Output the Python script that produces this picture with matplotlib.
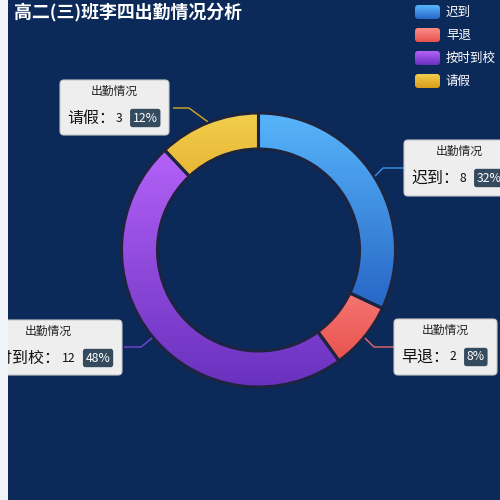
import numpy as np
import matplotlib
matplotlib.use("Agg")
import matplotlib.pyplot as plt
from matplotlib.patches import Wedge, FancyBboxPatch, Rectangle
from matplotlib.colors import to_rgb

plt.rcParams['font.family'] = ['Noto Sans CJK SC', 'DejaVu Sans']

# data
title = "高二(三)班李四出勤情况分析"
series_name = "出勤情况"
categories = ["迟到", "早退", "按时到校", "请假"]
values = [8, 2, 12, 3]

# gradient colours (top, bottom)
grad_top = ["#58b6fb", "#fd8c88", "#b462f7", "#f2ce4c"]
grad_bot = ["#2766c6", "#e8524e", "#6830bd", "#d99d1a"]
line_colors = ["#3d8fe6", "#e86a6a", "#7b45d4", "#d6a822"]

BG = "#0b2a5a"
PAGE = "#f0f3f8"
W = H = 500

fig = plt.figure(figsize=(5, 5), dpi=100)
fig.patch.set_facecolor(PAGE)
ax = fig.add_axes([0, 0, 1, 1])
ax.set_xlim(0, W)
ax.set_ylim(0, H)
ax.axis("off")
ax.add_patch(Rectangle((8, 0), W - 8, H, facecolor=BG, edgecolor="none", zorder=0))


def Y(y):
    # image-style y (top down) to axis y
    return H - y


def vgrad(c1, c2, n=256):
    a = np.array(to_rgb(c1))
    b = np.array(to_rgb(c2))
    t = np.linspace(0, 1, n)[:, None]
    return (a * (1 - t) + b * t)[:, None, :]


cx, cy = 258.5, 250
r_out, r_in = 137, 101
total = sum(values)

cum = 0
mids = []
for i, v in enumerate(values):
    a_start = 90 - 360 * cum / total
    a_end = 90 - 360 * (cum + v) / total
    mids.append((a_start + a_end) / 2)
    cum += v
    w = Wedge((cx, Y(cy)), r_out, a_end, a_start, width=r_out - r_in,
              facecolor="none", edgecolor="none")
    ax.add_patch(w)
    verts = w.get_path().vertices
    x0, x1 = verts[:, 0].min(), verts[:, 0].max()
    y0, y1 = verts[:, 1].min(), verts[:, 1].max()
    im = ax.imshow(vgrad(grad_top[i], grad_bot[i]), extent=[x0, x1, y0, y1],
                   origin="upper", aspect="auto", zorder=2, interpolation="bilinear")
    im.set_clip_path(w)
    ax.add_patch(Wedge((cx, Y(cy)), r_out, a_end, a_start, width=r_out - r_in,
                       facecolor="none", edgecolor="#1b2440", linewidth=2.2, zorder=3))

ax.set_xlim(0, W)
ax.set_ylim(0, H)

# label layout: elbow point, box left/top/width/height (image px)
elbows = [(383, 168), (374, 347), (141, 347), (189, 108)]
line_ends = [404, 394, 124, 173]
boxes = [(404, 140, 110, 56), (394, 319, 103, 56), (-26, 320, 148, 55), (60, 80, 109, 55)]

fig.canvas.draw()
renderer = fig.canvas.get_renderer()

for i, cat in enumerate(categories):
    ang = np.radians(mids[i])
    px = cx + (r_out + 1) * np.cos(ang)
    py = cy - (r_out + 1) * np.sin(ang)
    ex, ey = elbows[i]
    ax.plot([px, ex, line_ends[i]], [Y(py), Y(ey), Y(ey)], color=line_colors[i],
            lw=1.0, zorder=4, solid_capstyle="butt")

    bx, by, bw, bh = boxes[i]
    ax.add_patch(FancyBboxPatch((bx, Y(by + bh)), bw, bh,
                                boxstyle="round,pad=0,rounding_size=4",
                                facecolor="#eeeeee", edgecolor="#c8c8c8",
                                linewidth=0.8, zorder=5))
    ax.text(bx + bw / 2, Y(by + 11), series_name, ha="center", va="center",
            fontsize=8.5, color="#222222", zorder=6)

    pct = round(values[i] / total * 100)
    # row: label, value, percent tag
    x = bx + 7
    ymain = Y(by + 38)
    t1 = ax.text(x, ymain, cat + "：", ha="left", va="center", fontsize=11.5,
                 color="#111111", zorder=6)
    bb = t1.get_window_extent(renderer)
    x = ax.transData.inverted().transform((bb.x1, 0))[0] + 1
    t2 = ax.text(x, ymain, str(values[i]), ha="left", va="center", fontsize=8.8,
                 color="#111111", zorder=6)
    bb = t2.get_window_extent(renderer)
    x = ax.transData.inverted().transform((bb.x1, 0))[0] + 10
    ax.text(x, ymain, f"{pct}%", ha="left", va="center", fontsize=8.8,
            color="white", zorder=6,
            bbox=dict(boxstyle="round,pad=0.22,rounding_size=0.2",
                      facecolor="#344a5e", edgecolor="none"))

# title
ax.text(14, Y(12), title, ha="left", va="center", fontsize=12.9,
        fontweight="bold", color="white", zorder=7)

# legend
for i, cat in enumerate(categories):
    ly = 12 + 23 * i
    rect = FancyBboxPatch((415, Y(ly + 7)), 25, 14,
                          boxstyle="round,pad=0,rounding_size=3",
                          facecolor="none", edgecolor="none", zorder=7)
    ax.add_patch(rect)
    im = ax.imshow(vgrad(grad_top[i], grad_bot[i]), extent=[415, 440, Y(ly + 7), Y(ly - 7)],
                   origin="upper", aspect="auto", zorder=7)
    im.set_clip_path(rect)
    ax.text(446, Y(ly), cat, ha="left", va="center", fontsize=9,
            color="white", zorder=7)

# page strip on the left covers anything outside the chart canvas
ax.add_patch(Rectangle((0, 0), 8, H, facecolor=PAGE, edgecolor="none", zorder=20))

ax.set_xlim(0, W)
ax.set_ylim(0, H)
fig.savefig("out.png", dpi=100, facecolor=fig.get_facecolor())
